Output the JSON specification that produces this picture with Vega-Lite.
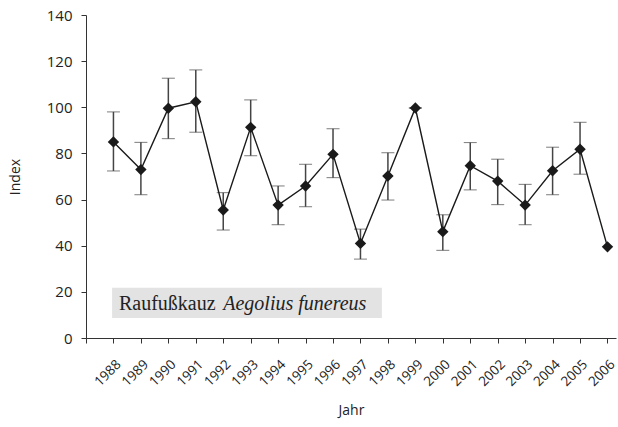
{
  "$schema": "https://vega.github.io/schema/vega-lite/v6.json",
  "width": 530,
  "height": 323,
  "autosize": {"type": "none"},
  "padding": {"left": 86, "top": 15, "right": 2, "bottom": 89},
  "background": "white",
  "config": {
    "view": {"stroke": null},
    "axis": {"grid": false, "domainColor": "#333", "tickColor": "#333", "labelColor": "#222", "titleColor": "#222", "labelFont": "Open Sans", "titleFont": "Open Sans", "titleFontWeight": "normal"},
    "axisX": {"title": "Jahr", "values": [1987,1988,1989,1990,1991,1992,1993,1994,1995,1996,1997,1998,1999,2000,2001,2002,2003,2004,2005,2006], "labelExpr": "datum.value == 1987 ? '' : '' + datum.value", "labelAngle": -45, "labelAlign": "right", "labelBaseline": "top", "labelFontSize": 13.5, "titleFontSize": 14, "titlePadding": 15, "tickSize": 5, "labelPadding": 14, "labelOffset": 0, "labelOverlap": false, "labelBound": false, "labelFlush": false},
    "axisY": {"values": [0,20,40,60,80,100,120,140], "labelFontSize": 15, "titleFontSize": 14, "titlePadding": 24, "tickSize": 5, "labelPadding": 9}
  },
  "datasets": {
    "index": [
      {"Jahr": 1988, "Index": 85, "lo": 72.4, "hi": 98},
      {"Jahr": 1989, "Index": 73, "lo": 62.1, "hi": 84.8},
      {"Jahr": 1990, "Index": 99.6, "lo": 86.4, "hi": 112.6},
      {"Jahr": 1991, "Index": 102.4, "lo": 89.2, "hi": 116.2},
      {"Jahr": 1992, "Index": 55.5, "lo": 46.8, "hi": 63},
      {"Jahr": 1993, "Index": 91.3, "lo": 79, "hi": 103.2},
      {"Jahr": 1994, "Index": 57.6, "lo": 49.1, "hi": 65.9},
      {"Jahr": 1995, "Index": 65.9, "lo": 56.9, "hi": 75.3},
      {"Jahr": 1996, "Index": 79.6, "lo": 69.5, "hi": 90.7},
      {"Jahr": 1997, "Index": 41, "lo": 34.2, "hi": 47.2},
      {"Jahr": 1998, "Index": 70.2, "lo": 59.8, "hi": 80.3},
      {"Jahr": 1999, "Index": 99.7, "lo": 99.7, "hi": 99.7},
      {"Jahr": 2000, "Index": 46.1, "lo": 38, "hi": 53.4},
      {"Jahr": 2001, "Index": 74.7, "lo": 64.2, "hi": 84.7},
      {"Jahr": 2002, "Index": 68, "lo": 57.8, "hi": 77.5},
      {"Jahr": 2003, "Index": 57.6, "lo": 49.1, "hi": 66.6},
      {"Jahr": 2004, "Index": 72.5, "lo": 62.1, "hi": 82.7},
      {"Jahr": 2005, "Index": 81.8, "lo": 71, "hi": 93.5},
      {"Jahr": 2006, "Index": 39.5, "lo": null, "hi": null}
    ],
    "label": [
      {"art": "Raufußkauz", "lat": "Aegolius funereus"}
    ]
  },
  "layer": [
    {
      "data": {"name": "label"},
      "mark": {"type": "rect", "color": "#e3e3e3"},
      "encoding": {
        "x": {"datum": 1987.95, "type": "quantitative",
          "scale": {"domain": [1987, 2006.31], "nice": false, "zero": false},
          "axis": {"title": "Jahr"}},
        "x2": {"datum": 1997.78},
        "y": {"datum": 8.7, "type": "quantitative",
          "scale": {"domain": [0, 140], "nice": false},
          "axis": {"title": "Index"}},
        "y2": {"datum": 21.8}
      }
    },
    {
      "data": {"name": "label"},
      "mark": {"type": "text", "font": "Liberation Serif", "fontSize": 20, "align": "left", "baseline": "alphabetic", "color": "#222"},
      "encoding": {
        "text": {"field": "art"},
        "x": {"datum": 1988.2, "type": "quantitative", "axis": {"title": "Jahr"}},
        "y": {"datum": 12.1, "type": "quantitative", "axis": {"title": "Index"}}
      }
    },
    {
      "data": {"name": "label"},
      "mark": {"type": "text", "font": "Liberation Serif", "fontSize": 20, "fontStyle": "italic", "align": "left", "baseline": "alphabetic", "color": "#222"},
      "encoding": {
        "text": {"field": "lat"},
        "x": {"datum": 1992.0, "type": "quantitative", "axis": {"title": "Jahr"}},
        "y": {"datum": 12.1, "type": "quantitative", "axis": {"title": "Index"}}
      }
    },
    {
      "data": {"name": "index"},
      "transform": [{"filter": "datum.lo != null"}],
      "mark": {"type": "errorbar", "ticks": {"size": 13, "color": "#444", "strokeWidth": 1.5}, "rule": {"color": "#444", "strokeWidth": 1.5}},
      "encoding": {
        "x": {"field": "Jahr", "type": "quantitative", "axis": {"title": "Jahr"}},
        "y": {"field": "lo", "type": "quantitative", "axis": {"title": "Index"}},
        "y2": {"field": "hi"}
      }
    },
    {
      "data": {"name": "index"},
      "mark": {"type": "line", "color": "#1a1a1a", "strokeWidth": 1.4},
      "encoding": {
        "x": {"field": "Jahr", "type": "quantitative", "axis": {"title": "Jahr"}},
        "y": {"field": "Index", "type": "quantitative", "axis": {"title": "Index"}}
      }
    },
    {
      "data": {"name": "index"},
      "mark": {"type": "point", "shape": "diamond", "filled": true, "color": "#1a1a1a", "size": 130, "opacity": 1},
      "encoding": {
        "x": {"field": "Jahr", "type": "quantitative", "axis": {"title": "Jahr"}},
        "y": {"field": "Index", "type": "quantitative", "axis": {"title": "Index"}}
      }
    }
  ]
}
